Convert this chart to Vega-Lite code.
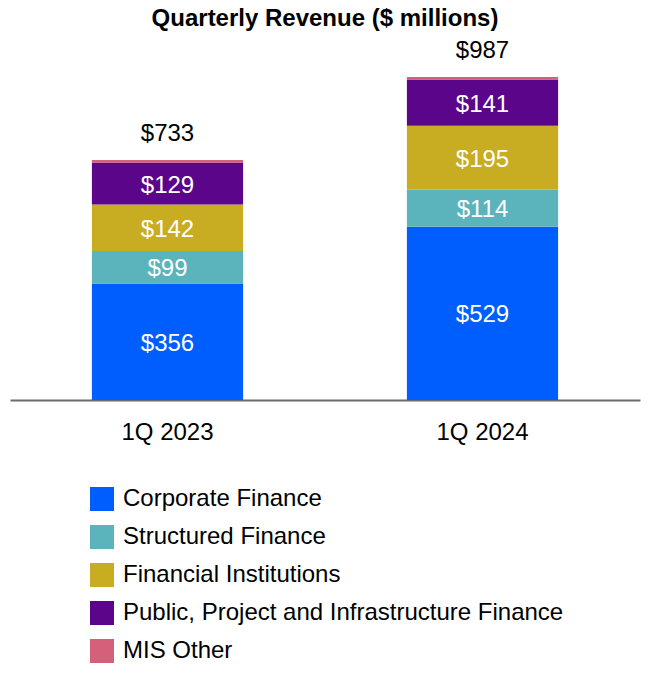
{
  "$schema": "https://vega.github.io/schema/vega-lite/v6.json",
  "autosize": {"type": "none"},
  "padding": {"left": 10, "top": 40, "right": 10, "bottom": 290},
  "width": 630,
  "height": 360,
  "background": "white",
  "config": {
    "font": "Liberation Sans",
    "view": {"stroke": null}
  },
  "title": {
    "text": "Quarterly Revenue ($ millions)",
    "fontSize": 24,
    "fontWeight": "bold",
    "font": "Liberation Sans",
    "color": "black",
    "anchor": "middle",
    "frame": "group",
    "offset": 8
  },
  "data": {
    "values": [
      {"quarter": "1Q 2023", "segment": "Corporate Finance", "idx": 1, "value": 356},
      {"quarter": "1Q 2023", "segment": "Structured Finance", "idx": 2, "value": 99},
      {"quarter": "1Q 2023", "segment": "Financial Institutions", "idx": 3, "value": 142},
      {"quarter": "1Q 2023", "segment": "Public, Project and Infrastructure Finance", "idx": 4, "value": 129},
      {"quarter": "1Q 2023", "segment": "MIS Other", "idx": 5, "value": 7},
      {"quarter": "1Q 2024", "segment": "Corporate Finance", "idx": 1, "value": 529},
      {"quarter": "1Q 2024", "segment": "Structured Finance", "idx": 2, "value": 114},
      {"quarter": "1Q 2024", "segment": "Financial Institutions", "idx": 3, "value": 195},
      {"quarter": "1Q 2024", "segment": "Public, Project and Infrastructure Finance", "idx": 4, "value": 141},
      {"quarter": "1Q 2024", "segment": "MIS Other", "idx": 5, "value": 8}
    ]
  },
  "transform": [
    {"stack": "value", "groupby": ["quarter"], "sort": [{"field": "idx", "order": "ascending"}], "as": ["v0", "v1"]},
    {"calculate": "(datum.v0 + datum.v1) / 2", "as": "vmid"}
  ],
  "encoding": {
    "x": {
      "field": "quarter",
      "type": "nominal",
      "scale": {"paddingInner": 0.52, "paddingOuter": 0.26},
      "axis": {
        "title": null,
        "labelAngle": 0,
        "labelFontSize": 24,
        "labelColor": "black",
        "labelPadding": 20,
        "ticks": false,
        "domainColor": "#6b6b6b",
        "domainWidth": 2
      }
    }
  },
  "layer": [
    {
      "mark": {"type": "bar"},
      "encoding": {
        "y": {"field": "v0", "type": "quantitative", "scale": {"domain": [0, 1090]}, "axis": null},
        "y2": {"field": "v1"},
        "color": {
          "field": "segment",
          "type": "nominal",
          "scale": {
            "domain": ["Corporate Finance", "Structured Finance", "Financial Institutions", "Public, Project and Infrastructure Finance", "MIS Other"],
            "range": ["#005EFF", "#5BB3BC", "#C8AC22", "#5A058A", "#D5607A"]
          },
          "legend": {
            "title": null,
            "orient": "none",
            "legendX": 80,
            "legendY": 447,
            "symbolType": "square",
            "symbolSize": 576,
            "symbolStrokeWidth": 0,
            "symbolOpacity": 1,
            "labelFontSize": 24,
            "labelColor": "black",
            "labelOffset": 9,
            "labelLimit": 600,
            "rowPadding": 14
          }
        }
      }
    },
    {
      "transform": [{"filter": "datum.value > 20"}],
      "mark": {"type": "text", "color": "white", "fontSize": 24, "baseline": "middle", "align": "center", "dy": 2},
      "encoding": {
        "y": {"field": "vmid", "type": "quantitative"},
        "text": {"field": "value", "type": "quantitative", "format": "$,.0f"}
      }
    },
    {
      "transform": [
        {"aggregate": [{"op": "sum", "field": "value", "as": "total"}], "groupby": ["quarter"]}
      ],
      "mark": {"type": "text", "color": "black", "fontSize": 24, "baseline": "middle", "align": "center", "dy": -26},
      "encoding": {
        "y": {"field": "total", "type": "quantitative"},
        "text": {"field": "total", "type": "quantitative", "format": "$,.0f"}
      }
    }
  ]
}
